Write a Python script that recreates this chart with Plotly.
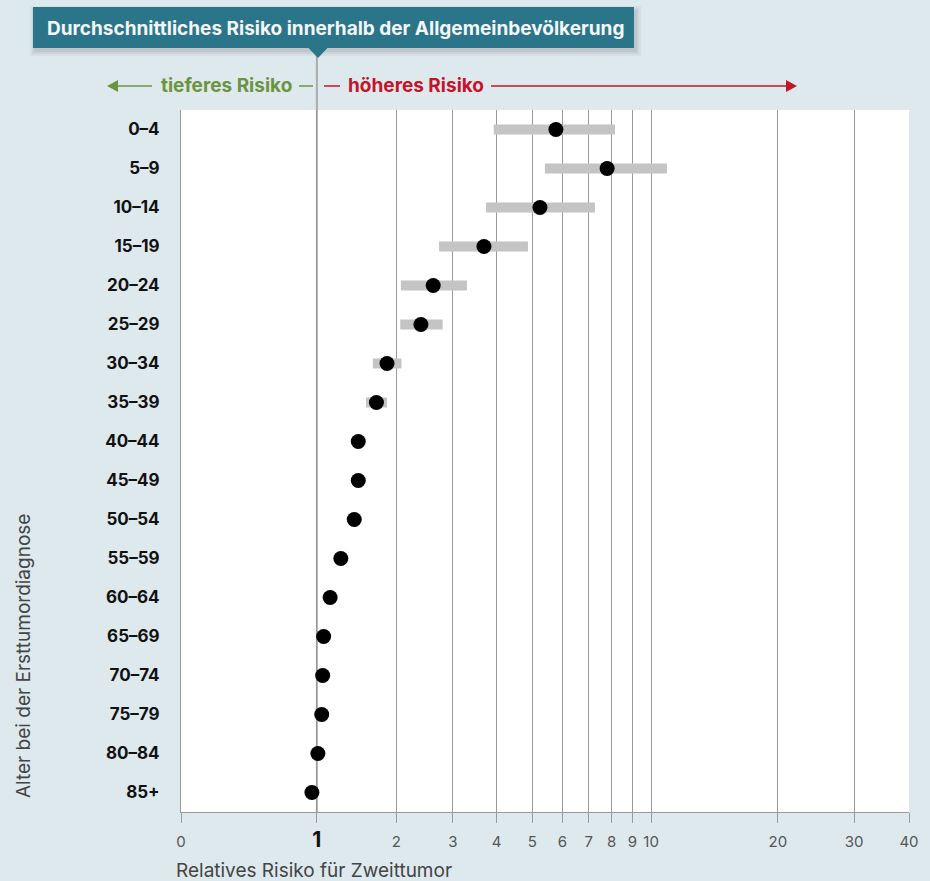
import math
import plotly.graph_objects as go

# ---- data ----
age_groups = ["0–4", "5–9", "10–14", "15–19", "20–24", "25–29", "30–34", "35–39",
              "40–44", "45–49", "50–54", "55–59", "60–64", "65–69", "70–74",
              "75–79", "80–84", "85+"]
rr = [5.77, 7.79, 5.24, 3.69, 2.62, 2.40, 1.86, 1.71,
      1.47, 1.47, 1.42, 1.26, 1.14, 1.07, 1.06, 1.05, 1.01, 0.95]
ci_low = [3.93, 5.40, 3.74, 2.73, 2.07, 2.06, 1.66, 1.57,
          1.41, 1.41, 1.37, 1.21, 1.10, 1.03, 1.02, 1.01, 0.97, 0.90]
ci_high = [8.15, 10.93, 7.26, 4.87, 3.30, 2.80, 2.08, 1.86,
           1.53, 1.53, 1.48, 1.31, 1.18, 1.11, 1.10, 1.09, 1.05, 1.00]
tick_values = [0, 1, 2, 3, 4, 5, 6, 7, 8, 9, 10, 20, 30, 40]
tick_labels = ["0", "<span style='font-size:21px;color:#111'><b>1</b></span>", "2", "3", "4", "5",
               "6", "7", "8", "9", "10", "20", "30", "40"]
reference_rr = 1

# scale: log(RR + 1)
def sx(v):
    return v + 1

W, H = 930, 881
L, R, T, B = 181, 909, 110, 812

def xp(px):
    return (px - L) / (R - L)

def yp(py):
    return (B - py) / (B - T)

BG = "#dee9ee"
TEAL = "#2b758a"
GREEN = "#6b9440"
RED = "#c41428"
GRID = "#9a9a9a"
FONT = "Inter, Roboto, sans-serif"

fig = go.Figure()

# CI bars
cx, cy = [], []
for g, lo, hi in zip(age_groups, ci_low, ci_high):
    cx += [sx(lo), sx(hi), None]
    cy += [g, g, None]
fig.add_trace(go.Scatter(x=cx, y=cy, mode="lines",
                         line=dict(color="#c4c4c4", width=10),
                         hoverinfo="skip", showlegend=False))
# points
fig.add_trace(go.Scatter(x=[sx(v) for v in rr], y=age_groups, mode="markers",
                         marker=dict(color="black", size=15),
                         showlegend=False))

shapes = []
# reference line at RR = 1, extending up to the title box
shapes.append(dict(type="line", xref="x", yref="paper",
                   x0=sx(reference_rr), x1=sx(reference_rr), y0=0, y1=yp(56),
                   line=dict(color="#ababab", width=2), layer="between"))
# title box shadow + box + pointer
BX0, BX1, BY0, BY1 = 33, 634, 7, 48
for off, op in [(5, 0.04), (3, 0.05), (1, 0.06)]:
    shapes.append(dict(type="rect", xref="paper", yref="paper",
                       x0=xp(BX0 - off + 2), x1=xp(BX1 + off + 2),
                       y0=yp(BY1 + off + 3), y1=yp(BY0 - off + 4),
                       fillcolor=f"rgba(0,0,0,{op})", line=dict(width=0), layer="above"))
shapes.append(dict(type="rect", xref="paper", yref="paper",
                   x0=xp(BX0), x1=xp(BX1), y0=yp(BY1), y1=yp(BY0),
                   fillcolor=TEAL, line=dict(width=0), layer="above"))
shapes.append(dict(type="path", xref="paper", yref="paper",
                   path=f"M {xp(308)},{yp(47.5)} L {xp(328)},{yp(47.5)} L {xp(318)},{yp(58)} Z",
                   fillcolor=TEAL, line=dict(width=0), layer="above"))
# direction arrows
AY = 86
shapes += [
    dict(type="line", xref="paper", yref="paper", x0=xp(113), x1=xp(152), y0=yp(AY), y1=yp(AY),
         line=dict(color=GREEN, width=1.5)),
    dict(type="path", xref="paper", yref="paper",
         path=f"M {xp(107)},{yp(AY)} L {xp(118)},{yp(AY-6)} L {xp(118)},{yp(AY+6)} Z",
         fillcolor=GREEN, line=dict(width=0)),
    dict(type="line", xref="paper", yref="paper", x0=xp(299), x1=xp(313), y0=yp(AY), y1=yp(AY),
         line=dict(color=GREEN, width=1.5)),
    dict(type="line", xref="paper", yref="paper", x0=xp(324), x1=xp(340), y0=yp(AY), y1=yp(AY),
         line=dict(color=RED, width=1.5)),
    dict(type="line", xref="paper", yref="paper", x0=xp(491), x1=xp(788), y0=yp(AY), y1=yp(AY),
         line=dict(color=RED, width=1.5)),
    dict(type="path", xref="paper", yref="paper",
         path=f"M {xp(797)},{yp(AY)} L {xp(786)},{yp(AY-6)} L {xp(786)},{yp(AY+6)} Z",
         fillcolor=RED, line=dict(width=0)),
]

annotations = [
    dict(text="<b>Durchschnittliches Risiko innerhalb der Allgemeinbevölkerung</b>",
         xref="paper", yref="paper", x=xp(45), y=yp(28), xanchor="left", yanchor="middle",
         showarrow=False, font=dict(family=FONT, size=19, color="#f4f7f8")),
    dict(text="<b>tieferes Risiko</b>", xref="paper", yref="paper", x=xp(226), y=yp(AY),
         xanchor="center", yanchor="middle", showarrow=False,
         font=dict(family=FONT, size=19, color=GREEN)),
    dict(text="<b>höheres Risiko</b>", xref="paper", yref="paper", x=xp(416), y=yp(AY),
         xanchor="center", yanchor="middle", showarrow=False,
         font=dict(family=FONT, size=19, color=RED)),
    dict(text="Relatives Risiko für Zweittumor", xref="paper", yref="paper",
         x=xp(174), y=yp(870), xanchor="left", yanchor="middle", showarrow=False,
         font=dict(family=FONT, size=19, color="#444")),
    dict(text="Alter bei der Ersttumordiagnose", xref="paper", yref="paper",
         x=xp(23), y=yp(656), xanchor="center", yanchor="middle", textangle=-90,
         showarrow=False, font=dict(family=FONT, size=19, color="#444")),
]

fig.update_layout(
    width=W, height=H,
    margin=dict(l=L, r=W - R, t=T, b=H - B, pad=0),
    paper_bgcolor=BG, plot_bgcolor="white",
    shapes=shapes, annotations=annotations,
    xaxis=dict(type="log", range=[math.log10(sx(0)), math.log10(sx(40))],
               tickvals=[sx(v) for v in tick_values], ticktext=tick_labels,
               showgrid=True, gridcolor=GRID, gridwidth=1,
               showline=True, linecolor=GRID, linewidth=1,
               ticks="outside", ticklen=10, tickcolor=GRID, tickwidth=1,
               ticklabelstandoff=6,
               tickfont=dict(family=FONT, size=15, color="#555"),
               zeroline=False, fixedrange=True),
    yaxis=dict(type="category", categoryorder="array", categoryarray=age_groups,
               range=[len(age_groups) - 0.5, -0.5], showgrid=False, zeroline=False,
               showline=True, linecolor=GRID, linewidth=1,
               ticks="", ticklabelstandoff=17,
               tickfont=dict(family=FONT, size=17, color="#111", weight="bold"),
               fixedrange=True),
)

fig.write_html("out.html", config={"displayModeBar": False},
               post_script="document.body.style.margin='0';document.body.style.background='%s';" % BG)
